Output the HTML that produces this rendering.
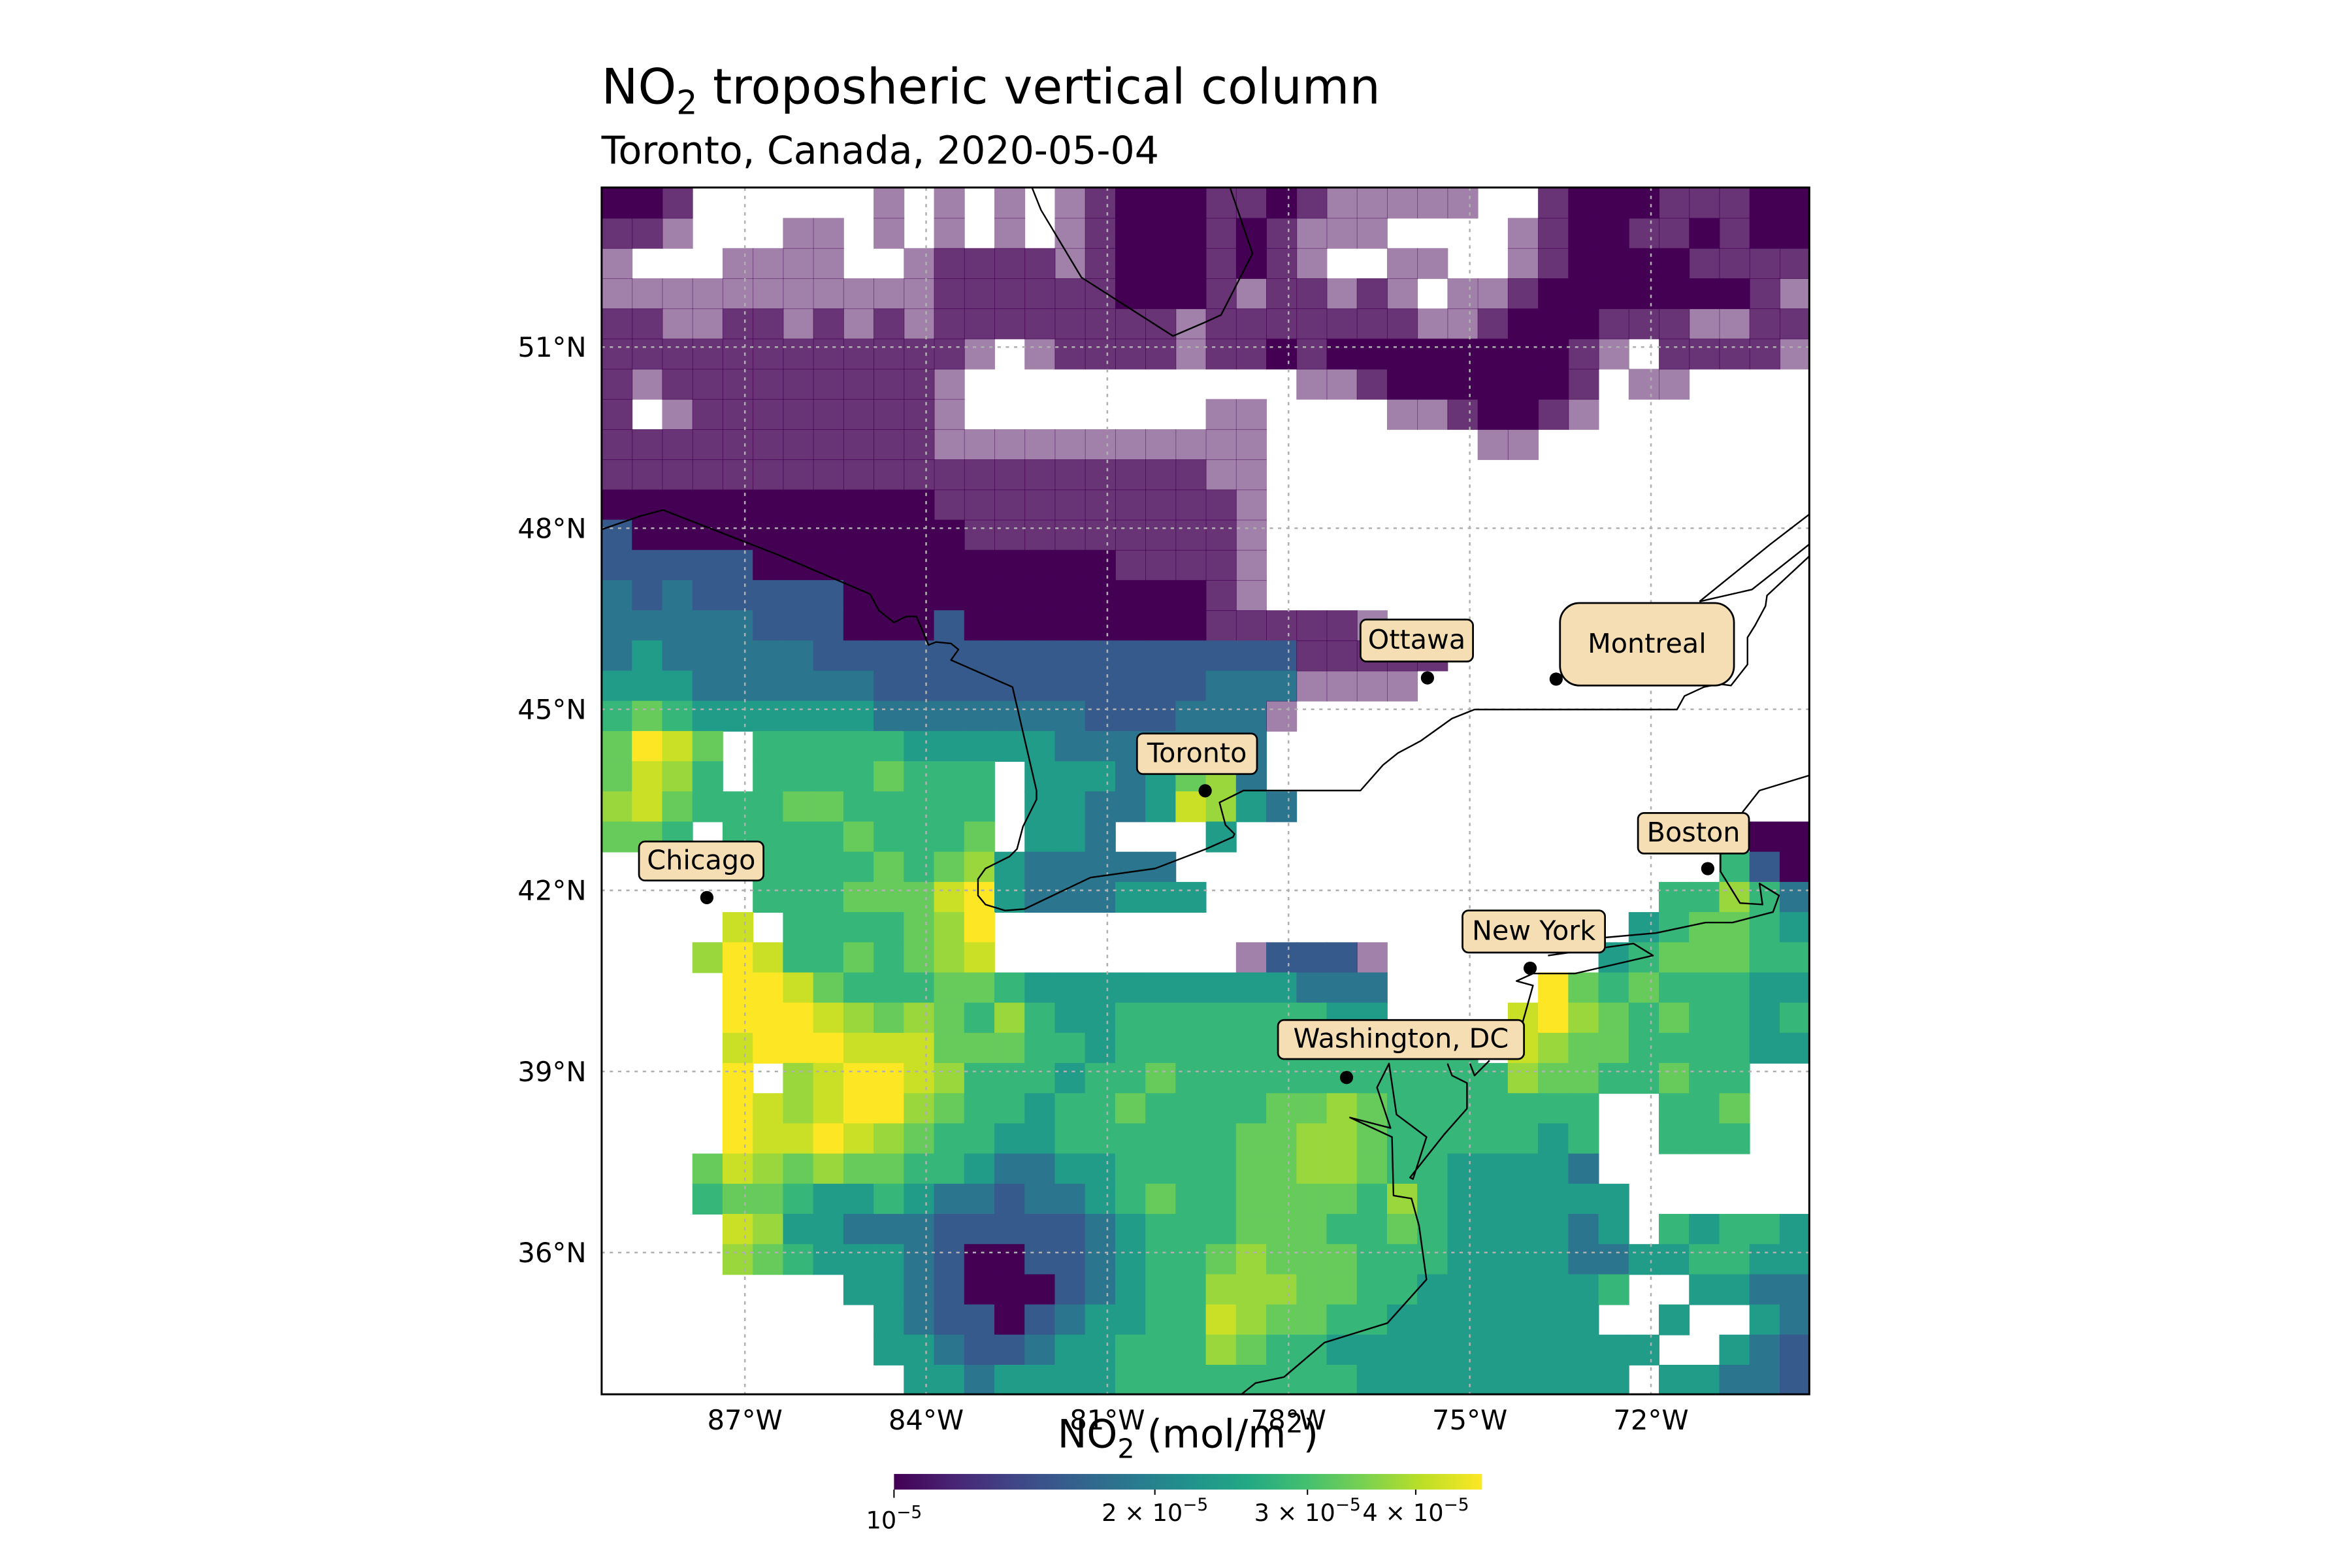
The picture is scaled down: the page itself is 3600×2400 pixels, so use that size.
<!DOCTYPE html>
<html>
<head>
<meta charset="utf-8">
<style>
html,body{margin:0;padding:0;background:#fff;}
svg{display:block;}
text{font-family:"DejaVu Sans","Liberation Sans",sans-serif;}
</style>
</head>
<body>
<svg id="fig" width="3600" height="2400" viewBox="0 0 1568 1045.3" preserveAspectRatio="none" xmlns="http://www.w3.org/2000/svg">
  <rect x="0" y="0" width="1568" height="1045.3" fill="#ffffff"/>
  <text x="401" y="69" font-size="32.5" fill="#000">NO<tspan font-size="22" dy="7">2</tspan><tspan dy="-7"> troposheric vertical column</tspan></text>
  <text x="401" y="109" font-size="25.5" fill="#000">Toronto, Canada, 2020-05-04</text>
  <defs>
    <clipPath id="plotclip"><rect x="401.1" y="125" width="805.1" height="804.5"/></clipPath>
    <linearGradient id="viridis" x1="0" y1="0" x2="1" y2="0">
      <stop offset="0" stop-color="#440154"/><stop offset="0.1" stop-color="#482475"/>
      <stop offset="0.2" stop-color="#414487"/><stop offset="0.3" stop-color="#355f8d"/>
      <stop offset="0.4" stop-color="#2a788e"/><stop offset="0.5" stop-color="#21918c"/>
      <stop offset="0.6" stop-color="#22a884"/><stop offset="0.7" stop-color="#44bf70"/>
      <stop offset="0.8" stop-color="#7ad151"/><stop offset="0.9" stop-color="#bddf26"/>
      <stop offset="1" stop-color="#fde725"/>
    </linearGradient>
  </defs>
  <g id="heatmap" clip-path="url(#plotclip)"></g>
  <g id="grid" clip-path="url(#plotclip)"></g>
  <g id="borders" clip-path="url(#plotclip)" fill="none" stroke="#000" stroke-width="1.05" stroke-linejoin="round">
    <polyline points="688,125 694,140 721,185 782,224 803,215 814,210 835,169 820,125"/>
    <polyline points="401,353 427,344 442,340 473,352 519,370 580,396 586,407 596,415 604,411 611,411 619,430 624,428 634,429 639,433 634,440 675,458 691,527 691,533 682,551 678,566 673,571 657,579 652,586 652,597 657,603 670,607 683,606 727,585 770,579 804,566 822,558 823,556 817,550 813,535 829,527 907,527 922,510 932,502 947,494 968,479 983,473 1118,473 1123,464 1136,458 1146,456 1154,457 1165,443 1165,425 1170,417 1177,404 1178,397 1206,371"/>
    <polyline points="1133,401 1168,393 1206,363"/>
    <polyline points="1133,401 1180,363 1206,343"/>
    <polyline points="1206,517 1173,527 1162,541 1147,569 1147,581 1160,602 1175,603 1173,589 1186,597 1182,608 1155,615 1137,615 1104,622 1070,625"/>
    <polyline points="1032,637 1089,629 1102,637 1050,649 1022,649 1011,654 1022,657 1013,689 1009,692"/>
    <polyline points="965,709 968,717 978,722 978,739 963,756 940,785 942,786 951,758 931,743 926,709 918,725 927,752 900,745 928,758 929,797 941,799 946,817 951,853 925,882 883,895 856,918 837,922 827,930"/>
    <polyline points="980,709 983,717 993,707"/>
  </g>
  <rect x="401.1" y="125" width="805.1" height="804.5" fill="none" stroke="#000" stroke-width="1.3"/>
  <g id="ticks"></g>
  <g id="cities"></g>
  <g id="colorbar"></g>
  <text x="792" y="965" font-size="26" text-anchor="middle" fill="#000">NO<tspan font-size="18" dy="7">2</tspan><tspan dy="-7"> (mol/m</tspan><tspan font-size="18" dy="-10">2</tspan><tspan dy="10">)</tspan></text>
</svg>
<script>
// ---- data ----
const lonStart = -89.37;
const latStart = 53.64;
const cellDeg = 0.5;
// grid rows (north to south), 40 cells each, '.' = no data, 'a'/'b' = sparse/dense low-value retrievals
const gridRows = [
"00b......a .a.a.ab000 bb0baaaaa. .b000bbb00",
"bba...aa.a .a.a.ab000 b0baaa.... ab00bb0b00",
"a...aaaa.. abbbbab000 b0ba..aa.. ab0000bbbb",
"aaaaaaaaaa abbbbbb000 babbaba.aa b0000000ba",
"bbaabbabab abbbbbbbba bbbbbbbaab 000bbbaabb",
"bbbbbbbbbb bba.abbbba bb0b000000 00ba.bbbba",
"babbbbbbbb ba........ ...aab0000 00b.aa....",
"b.abbbbbbb ba........ aa....aab0 0ba.......",
"bbbbbbbbbb baaaaaaaaa aa.......a a.........",
"bbbbbbbbbb bbbbbbbbbb aa........ ..........",
"0000000000 0bbbbbbbbb ba........ ..........",
"1000000000 00bbbbbbbb ba........ ..........",
"1111100000 0000000bbb ba........ ..........",
"2121111100 0000000000 ba........ ..........",
"2222211100 0100000000 bbbbba.... ..........",
"2322222111 1111111111 111bbbbb.. ..........",
"3332222221 1111111111 222aaaa... ..........",
"4543333332 2222221112 22a....... ..........",
"5875.44444 3333322222 22........ ..........",
"5764.44445 444.333235 62........ ..........",
"6754445544 444.332237 632....... ..........",
"554.444454 445.332... 3......... ........00",
".....44445 456322222. .......... .......410",
".....44455 5783222333 .......... .....44642",
"....7.4444 568....... .......... ....345543",
"...6874454 567....... .a111a.... ...3455544",
"....887544 4554333333 333222.... .854544433",
"....888765 6546433444 444433.... 7865454434",
"....788877 7555443444 444444444. 7655444433",
"....8.6788 7644434454 4444444444 65544544..",
"....876788 6544344544 4455654444 444..445..",
"....877876 5443344444 4556654444 434..444..",
"...5765655 4432233444 4556654433 332.......",
"...4554334 3221223454 4555546433 3333......",
"....763322 2111112344 4555445433 3323.43443",
"....654333 2100112344 5655544433 3322334433",
"........33 2100012344 6665544333 3334..3322",
".........3 2110123344 7655443333 333..3..32",
".........3 3211233444 6544333333 33333..321",
".......... 3323333444 4444433333 3333.33221"
];
// NO2 column per symbol (units of 1e-5 mol/m2)
const symbolValue = {"0":1.0,"1":1.55,"2":1.85,"3":2.36,"4":2.8,"5":3.3,"6":3.75,"7":4.2,"8":4.9,"a":1.0,"b":1.0};
const symbolCoverage = {"a":0.5,"b":0.8};
const lonTicks = [-87,-84,-81,-78,-75,-72];
const latTicks = [51,48,45,42,39,36];
const cbTicks = [1e-5,2e-5,3e-5,4e-5];
const cbTickMant = ["","2","3","4"];
const vmin = 1e-5, vmax = 4.77e-5;
const cityNames = ["Ottawa","Montreal","Toronto","Chicago","Boston","New York","Washington, DC"];
const cityLon = [-75.70,-73.57,-79.38,-87.63,-71.06,-74.00,-77.04];
const cityLat = [45.52,45.50,43.65,41.88,42.36,40.71,38.90];

// ---- scales ----
const NS = "http://www.w3.org/2000/svg";
function xOf(lon){ return 496.6 + (lon + 87) * 40.27; }
function yOf(lat){ return 231.4 + (51 - lat) * 40.24; }
function normT(v){ let t = Math.log(v / vmin) / Math.log(vmax / vmin); return Math.max(0, Math.min(1, t)); }
const vstops = ["#440154","#482475","#414487","#355f8d","#2a788e","#21918c","#22a884","#44bf70","#7ad151","#bddf26","#fde725"];
function hex(h){ return [parseInt(h.slice(1,3),16),parseInt(h.slice(3,5),16),parseInt(h.slice(5,7),16)]; }
function viridis(t){
  const p = t * 10, i = Math.min(9, Math.floor(p)), f = p - i;
  const a = hex(vstops[i]), b = hex(vstops[i+1]);
  return "rgb(" + a.map((c,k)=>Math.round(c + (b[k]-c)*f)).join(",") + ")";
}
function mk(tag, attrs, parent){
  const e = document.createElementNS(NS, tag);
  for (const k in attrs) e.setAttribute(k, attrs[k]);
  parent.appendChild(e);
  return e;
}

// ---- heatmap ----
const hm = document.getElementById("heatmap");
gridRows.forEach((rowStr, r) => {
  const row = rowStr.replace(/ /g, "");
  for (let c = 0; c < row.length; c++) {
    const s = row[c];
    if (s === ".") continue;
    const v = symbolValue[s] * 1e-5;
    const lon0 = lonStart + c * cellDeg, lat0 = latStart - r * cellDeg;
    const x0 = xOf(lon0), x1 = xOf(lon0 + cellDeg), y0 = yOf(lat0), y1 = yOf(lat0 - cellDeg);
    const cov = symbolCoverage[s] || 1;
    const el = mk("rect", {x:x0.toFixed(2), y:y0.toFixed(2), width:(x1-x0+0.4).toFixed(2), height:(y1-y0+0.4).toFixed(2), fill:viridis(normT(v)), "fill-opacity":cov}, hm);
    
    
  }
});

// ---- graticule & ticks ----
const grid = document.getElementById("grid");
const ticks = document.getElementById("ticks");
lonTicks.forEach(lon => {
  const x = xOf(lon);
  const l = mk("line", {x1:x, y1:125, x2:x, y2:929.5, stroke:"#b0b0b0", "stroke-width":1.1, "stroke-dasharray":"2.2 3.3"}, grid);
  
  
  const t = mk("text", {x:x, y:953, "font-size":18.2, "text-anchor":"middle", fill:"#000"}, ticks);
  t.textContent = Math.abs(lon) + "°W";
  
  
});
latTicks.forEach(lat => {
  const y = yOf(lat);
  const l = mk("line", {x1:401, y1:y, x2:1206, y2:y, stroke:"#b0b0b0", "stroke-width":1.1, "stroke-dasharray":"2.2 3.3"}, grid);
  
  
  const t = mk("text", {x:391, y:y+6.5, "font-size":18.2, "text-anchor":"end", fill:"#000"}, ticks);
  t.textContent = lat + "°N";
  
  
});

// ---- cities ----
const cities = document.getElementById("cities");
const boxes = {
  "Ottawa":[907,413,75,28,4],
  "Montreal":[1040,402,116,55,13],
  "Toronto":[758,489,80,27,4],
  "Chicago":[426,561,83,26,4],
  "Boston":[1092,542,74,27,4],
  "New York":[975,607,95,28,4],
  "Washington, DC":[852,680,164,26,4]
};
cityNames.forEach((name, i) => {
  const g = mk("g", {}, cities);
  
  
  const d = mk("circle", {cx:xOf(cityLon[i]), cy:yOf(cityLat[i]), r:4.4, fill:"#000"}, g);
  
  
  const b = boxes[name];
  const r = mk("rect", {x:b[0], y:b[1], width:b[2], height:b[3], rx:b[4], fill:"#f5deb3", stroke:"#000", "stroke-width":1.2}, g);
  
  
  const t = mk("text", {x:b[0]+b[2]/2, y:b[1]+b[3]/2+5.5, "font-size":18, "text-anchor":"middle", fill:"#000"}, g);
  t.textContent = name;
  
  
});

// ---- colorbar ----
const cb = document.getElementById("colorbar");
const cbX0 = 596, cbX1 = 988, cbY0 = 982.6, cbY1 = 993;
const bar = mk("rect", {x:cbX0, y:cbY0, width:cbX1-cbX0, height:cbY1-cbY0, fill:"url(#viridis)"}, cb);


cbTicks.forEach((v, i) => {
  const x = cbX0 + normT(v) * (cbX1 - cbX0);
  const tl = mk("line", {x1:x, y1:cbY1, x2:x, y2:cbY1 + (i === 0 ? 5.5 : 3.5), stroke:"#000", "stroke-width":0.9}, cb);
  
  
  const t = mk("text", {x:x, y:(i === 0 ? 1019 : 1014), "font-size":16, "text-anchor":"middle", fill:"#000"}, cb);
  
  
  const base = document.createElementNS(NS, "tspan");
  base.textContent = (cbTickMant[i] ? cbTickMant[i] + " \u00d7 10" : "10");
  t.appendChild(base);
  const sup = document.createElementNS(NS, "tspan");
  sup.setAttribute("dy", "-7");
  sup.setAttribute("font-size", "11.5");
  sup.textContent = "\u22125";
  t.appendChild(sup);
});
</script>
</body>
</html>
